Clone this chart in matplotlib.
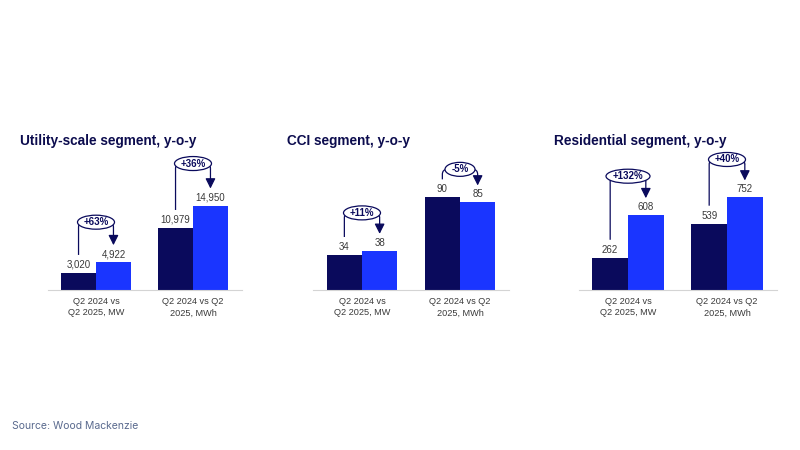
import matplotlib
matplotlib.use("Agg")
import matplotlib.pyplot as plt
from matplotlib.path import Path
from matplotlib.patches import PathPatch, Ellipse

# ---------------- data ----------------
titles = ["Utility-scale segment, y-o-y", "CCI segment, y-o-y", "Residential segment, y-o-y"]
categories = ["Q2 2024 vs\nQ2 2025, MW", "Q2 2024 vs Q2\n2025, MWh"]
utility_2024 = [3020, 10979]
utility_2025 = [4922, 14950]
cci_2024 = [34, 90]
cci_2025 = [38, 85]
res_2024 = [262, 539]
res_2025 = [608, 752]
utility_change = ["+63%", "+36%"]
cci_change = ["+11%", "-5%"]
res_change = ["+132%", "+40%"]
source = "Source: Wood Mackenzie"

panels = [
    (titles[0], utility_2024, utility_2025, utility_change),
    (titles[1], cci_2024, cci_2025, cci_change),
    (titles[2], res_2024, res_2025, res_change),
]

# ---------------- style ----------------
NAVY = "#0a0a5c"
BLUE = "#1a35ff"
TXT = "#3a3a3a"
TITLE = "#0c0c4e"
W, H = 800, 450
plt.rcParams['font.family'] = ['Liberation Sans', 'DejaVu Sans']

fig = plt.figure(figsize=(8, 4.5), dpi=100)
fig.patch.set_facecolor("white")

# axes placement in pixels: (left, right), baseline y, height
ax_px = [(47.5, 241.5), (313, 509), (578.5, 776.5)]
title_x = [20, 287, 554]
ymaxes = [24780, 136, 1138]
bracket_off = [[40, 42], [38, 28], [39, 38]]
base_y = 290
ax_h = 140
bw = 0.36

for i, (title, a, b, chg) in enumerate(panels):
    l, r = ax_px[i]
    ax = fig.add_axes([l / W, (H - base_y) / H, (r - l) / W, ax_h / H])
    ymax = ymaxes[i]
    ax.set_xlim(-0.5, 1.5)
    ax.set_ylim(0, ymax)
    dy = ymax / ax_h
    dx = 2.0 / (r - l)
    x = list(range(len(categories)))
    ax.bar([xi - bw / 2 for xi in x], a, width=bw, color=NAVY, zorder=2)
    ax.bar([xi + bw / 2 for xi in x], b, width=bw, color=BLUE, zorder=2)
    for xi, v1, v2, c in zip(x, a, b, chg):
        for xx, v in ((xi - bw / 2, v1), (xi + bw / 2, v2)):
            ax.text(xx, v + 3 * dy, f"{v:,}", ha="center", va="bottom",
                    fontsize=7.0, color=TXT)
        xl, xr = xi - bw / 2, xi + bw / 2
        yb = v1 + 18 * dy
        tip = v2 + 17 * dy
        lev = max(v1, v2) + bracket_off[i][xi] * dy
        rx, ry = 5 * dx, 5 * dy
        verts = [(xl, yb), (xl, lev - ry), (xl, lev), (xl + rx, lev),
                 (xr - rx, lev), (xr, lev), (xr, lev - ry)]
        codes = [Path.MOVETO, Path.LINETO, Path.CURVE3, Path.CURVE3,
                 Path.LINETO, Path.CURVE3, Path.CURVE3]
        ax.add_patch(PathPatch(Path(verts, codes), fill=False, ec=NAVY,
                               lw=0.9, zorder=3, clip_on=False))
        ax.annotate("", xy=(xr, tip), xytext=(xr, lev - ry),
                    arrowprops=dict(arrowstyle="-|>,head_length=0.6,head_width=0.3",
                                    color=NAVY, lw=0.9, shrinkA=0, shrinkB=0),
                    zorder=3, annotation_clip=False)
        ew = (9 + 7 * len(c)) * dx
        ax.add_patch(Ellipse((xi, lev), ew, 14 * dy, fc="white", ec=NAVY,
                             lw=0.9, zorder=4, clip_on=False))
        ax.text(xi, lev, c, ha="center", va="center", fontsize=7.0,
                fontweight="bold", color=NAVY, zorder=5)
    ax.set_xticks(x)
    ax.set_xticklabels(categories, fontsize=6.6, color=TXT, linespacing=1.35)
    ax.tick_params(axis="x", length=0, pad=5)
    ax.set_yticks([])
    for s in ("top", "right", "left"):
        ax.spines[s].set_visible(False)
    ax.spines["bottom"].set_color("#d4d4d4")
    ax.spines["bottom"].set_linewidth(0.8)
    ax.set_facecolor("none")
    fig.text(title_x[i] / W, 1 - 141 / H, title, ha="left", va="center",
             fontsize=9.8, fontweight="bold", color=TITLE)

fig.text(12 / W, 1 - 426 / H, source, ha="left", va="center", fontsize=7.5,
         color="#5a6a8e", family=["Inter", "DejaVu Sans"])

fig.savefig("out.png", dpi=100)
